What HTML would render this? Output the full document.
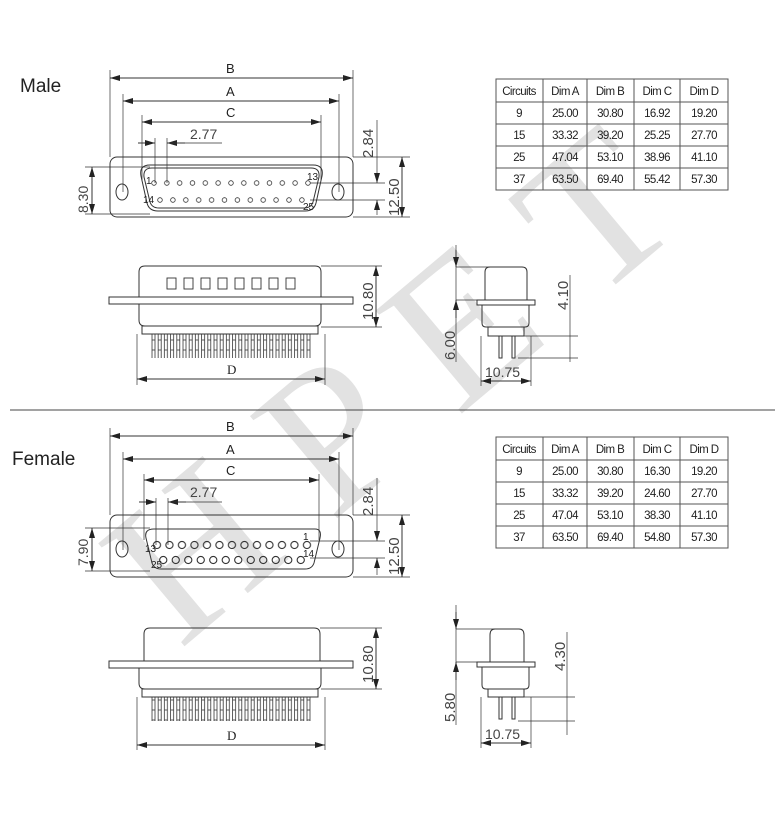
<!DOCTYPE html>
<html><head><meta charset="utf-8"><style>
html,body{margin:0;padding:0;background:#fff;}
svg{display:block;font-family:"Liberation Sans",sans-serif;}
</style></head><body>
<svg width="775" height="815" viewBox="0 0 775 815" xmlns="http://www.w3.org/2000/svg">
<defs>
<marker id="ar" viewBox="0 0 10 6" refX="10" refY="3" markerWidth="10" markerHeight="6" orient="auto-start-reverse" markerUnits="userSpaceOnUse"><path d="M0,0 L10,3 L0,6 z" fill="#222"/></marker>
<pattern id="p1a" patternUnits="userSpaceOnUse" x="147.6" y="178" width="12.83" height="10"><circle cx="6.4" cy="5" r="2.3" fill="none" stroke="#333" stroke-width="0.8"/></pattern>
<pattern id="p1b" patternUnits="userSpaceOnUse" x="153.6" y="195" width="12.9" height="10"><circle cx="6.4" cy="5" r="2.3" fill="none" stroke="#333" stroke-width="0.8"/></pattern>
<pattern id="pfa" patternUnits="userSpaceOnUse" x="150.7" y="540" width="12.5" height="10"><circle cx="6.25" cy="5" r="3.6" fill="none" stroke="#333" stroke-width="1.1"/></pattern>
<pattern id="pfb" patternUnits="userSpaceOnUse" x="157" y="555" width="12.5" height="10"><circle cx="6.25" cy="5" r="3.6" fill="none" stroke="#333" stroke-width="1.1"/></pattern>
<pattern id="pin" patternUnits="userSpaceOnUse" x="151" y="0" width="6.2" height="10"><rect x="1" y="0" width="3" height="10" fill="none" stroke="#333" stroke-width="0.8"/></pattern>
<pattern id="sq" patternUnits="userSpaceOnUse" x="163" y="277" width="17" height="13"><rect x="4" y="1" width="9" height="11" fill="none" stroke="#333" stroke-width="0.9"/></pattern>
</defs>

<!-- watermark -->
<text x="0" y="0" transform="translate(180,650) rotate(-40)" font-family="Liberation Serif,serif" font-size="205" fill="#e2e2e2" letter-spacing="50">HPET</text>

<g fill="none" stroke="#333" stroke-width="1">
<text x="20" y="92" font-size="19" fill="#222" stroke="none">Male</text>
<text x="12" y="465" font-size="19" fill="#222" stroke="none">Female</text>
<line x1="10" y1="410" x2="775" y2="410" stroke="#444"/>

<!-- ===== MALE FRONT ===== -->
<rect x="110" y="157" width="243" height="60" rx="7"/>
<ellipse cx="122" cy="192" rx="6" ry="8"/>
<ellipse cx="338" cy="192" rx="6" ry="8"/>
<path d="M150,165 L313,165 Q324,165 322,176 L316,203 Q314,211 305,211 L158,211 Q149,211 147,203 L141,176 Q139,165 150,165 Z"/>
<path d="M152,168 L311,168 Q320,168 319,177 L313,202 Q311,208 304,208 L159,208 Q152,208 150,202 L144,177 Q143,168 152,168 Z"/>
<rect x="147.6" y="178" width="166.8" height="10" fill="url(#p1a)" stroke="none"/>
<rect x="153.6" y="195" width="154.8" height="10" fill="url(#p1b)" stroke="none"/>
<text x="146" y="184" font-size="10" fill="#222" stroke="none">1</text>
<text x="307" y="180" font-size="10" fill="#222" stroke="none">13</text>
<text x="143" y="203" font-size="10" fill="#222" stroke="none">14</text>
<text x="303" y="210" font-size="10" fill="#222" stroke="none">25</text>
<!-- dims -->
<line x1="110" y1="70" x2="110" y2="157" stroke-width="0.7"/>
<line x1="353" y1="70" x2="353" y2="157" stroke-width="0.7"/>
<line x1="110" y1="78" x2="353" y2="78" marker-start="url(#ar)" marker-end="url(#ar)"/>
<text x="226" y="73" font-size="13" fill="#222" stroke="none">B</text>
<line x1="123" y1="94" x2="123" y2="192" stroke-width="0.7"/>
<line x1="339" y1="94" x2="339" y2="192" stroke-width="0.7"/>
<line x1="123" y1="101" x2="339" y2="101" marker-start="url(#ar)" marker-end="url(#ar)"/>
<text x="226" y="96" font-size="13" fill="#222" stroke="none">A</text>
<line x1="142" y1="115" x2="142" y2="180" stroke-width="0.7"/>
<line x1="321" y1="115" x2="321" y2="180" stroke-width="0.7"/>
<line x1="142" y1="122" x2="321" y2="122" marker-start="url(#ar)" marker-end="url(#ar)"/>
<text x="226" y="117" font-size="13" fill="#222" stroke="none">C</text>
<line x1="155" y1="138" x2="155" y2="183" stroke-width="0.7"/>
<line x1="167" y1="138" x2="167" y2="183" stroke-width="0.7"/>
<line x1="138" y1="143" x2="155" y2="143" marker-end="url(#ar)"/>
<line x1="185" y1="143" x2="167" y2="143" marker-end="url(#ar)"/>
<line x1="167" y1="143" x2="222" y2="143" stroke-width="0.7"/>
<text x="190" y="139" font-size="14" fill="#444" stroke="none">2.77</text>
<line x1="85" y1="167" x2="150" y2="167" stroke-width="0.7"/>
<line x1="85" y1="214" x2="150" y2="214" stroke-width="0.7"/>
<line x1="92" y1="167" x2="92" y2="214" marker-start="url(#ar)" marker-end="url(#ar)"/>
<text transform="translate(88,213) rotate(-90)" font-size="14" fill="#444" stroke="none">8.30</text>
<line x1="353" y1="157" x2="410" y2="157" stroke-width="0.7"/>
<line x1="353" y1="217" x2="410" y2="217" stroke-width="0.7"/>
<line x1="402" y1="157" x2="402" y2="217" marker-start="url(#ar)" marker-end="url(#ar)"/>
<text transform="translate(399,216) rotate(-90)" font-size="15" fill="#444" stroke="none">12.50</text>
<line x1="310" y1="183" x2="385" y2="183" stroke-width="0.7"/>
<line x1="310" y1="200" x2="385" y2="200" stroke-width="0.7"/>
<line x1="377" y1="120" x2="377" y2="183" stroke-width="0.7" marker-end="url(#ar)"/>
<line x1="377" y1="215" x2="377" y2="200" stroke-width="0.7" marker-end="url(#ar)"/>
<text transform="translate(373,158) rotate(-90)" font-size="15" fill="#444" stroke="none">2.84</text>

<!-- ===== MALE SIDE ===== -->
<path d="M139,297 L139,272 Q139,266 145,266 L315,266 Q321,266 321,272 L321,297"/>
<rect x="163" y="277" width="136" height="13" fill="url(#sq)" stroke="none"/>
<rect x="109" y="297" width="244" height="7"/>
<path d="M139,304 L139,320 Q139,326 145,326 L315,326 Q321,326 321,320 L321,304"/>
<rect x="142" y="326" width="176" height="8"/>
<rect x="151" y="334" width="161" height="24" fill="url(#pin)" stroke="none"/>
<line x1="321" y1="266" x2="382" y2="266" stroke-width="0.7"/>
<line x1="321" y1="327" x2="382" y2="327" stroke-width="0.7"/>
<line x1="376" y1="266" x2="376" y2="327" marker-start="url(#ar)" marker-end="url(#ar)"/>
<text transform="translate(373,320) rotate(-90)" font-size="15" fill="#444" stroke="none">10.80</text>
<line x1="137" y1="334" x2="137" y2="385" stroke-width="0.7"/>
<line x1="325" y1="334" x2="325" y2="385" stroke-width="0.7"/>
<line x1="137" y1="379" x2="325" y2="379" marker-start="url(#ar)" marker-end="url(#ar)"/>
<text x="227" y="374" font-size="13" font-family="Liberation Serif,serif" fill="#222" stroke="none">D</text>

<path d="M485,300 L485,272 Q485,267 490,267 L522,267 Q527,267 527,272 L527,300"/>
<rect x="477" y="300" width="58" height="5"/>
<path d="M482,305 L482,323 Q482,327 486,327 L525,327 Q529,327 529,323 L529,305"/>
<rect x="488" y="327" width="36" height="9"/>
<rect x="499" y="336" width="3" height="22"/>
<rect x="512" y="336" width="3" height="22"/>
<line x1="456" y1="245" x2="456" y2="362" stroke-width="0.7"/>
<line x1="456" y1="250" x2="456" y2="267" marker-end="url(#ar)"/>
<line x1="456" y1="318" x2="456" y2="300" marker-end="url(#ar)"/>
<line x1="456" y1="267" x2="490" y2="267" stroke-width="0.7"/>
<line x1="456" y1="300" x2="480" y2="300" stroke-width="0.7"/>
<text transform="translate(455,360) rotate(-90)" font-size="15" fill="#444" stroke="none">6.00</text>
<line x1="570" y1="275" x2="570" y2="362" stroke-width="0.7"/>
<line x1="518" y1="336" x2="578" y2="336" stroke-width="0.7"/>
<line x1="518" y1="358" x2="578" y2="358" stroke-width="0.7"/>
<text transform="translate(568,310) rotate(-90)" font-size="15" fill="#444" stroke="none">4.10</text>
<line x1="481" y1="336" x2="481" y2="386" stroke-width="0.7"/>
<line x1="531" y1="336" x2="531" y2="386" stroke-width="0.7"/>
<line x1="481" y1="381" x2="531" y2="381" marker-start="url(#ar)" marker-end="url(#ar)"/>
<text x="485" y="377" font-size="14" fill="#444" stroke="none">10.75</text>

<!-- ===== FEMALE FRONT ===== -->
<line x1="110" y1="428" x2="110" y2="515" stroke-width="0.7"/>
<line x1="353" y1="428" x2="353" y2="515" stroke-width="0.7"/>
<line x1="110" y1="436" x2="353" y2="436" marker-start="url(#ar)" marker-end="url(#ar)"/>
<text x="226" y="431" font-size="13" fill="#222" stroke="none">B</text>
<line x1="123" y1="452" x2="123" y2="550" stroke-width="0.7"/>
<line x1="339" y1="452" x2="339" y2="550" stroke-width="0.7"/>
<line x1="123" y1="459" x2="339" y2="459" marker-start="url(#ar)" marker-end="url(#ar)"/>
<text x="226" y="454" font-size="13" fill="#222" stroke="none">A</text>
<line x1="144" y1="474" x2="144" y2="540" stroke-width="0.7"/>
<line x1="319" y1="474" x2="319" y2="540" stroke-width="0.7"/>
<line x1="144" y1="480" x2="319" y2="480" marker-start="url(#ar)" marker-end="url(#ar)"/>
<text x="226" y="475" font-size="13" fill="#222" stroke="none">C</text>
<line x1="156" y1="498" x2="156" y2="545" stroke-width="0.7"/>
<line x1="168" y1="498" x2="168" y2="545" stroke-width="0.7"/>
<line x1="139" y1="502" x2="156" y2="502" marker-end="url(#ar)"/>
<line x1="186" y1="502" x2="168" y2="502" marker-end="url(#ar)"/>
<line x1="168" y1="502" x2="222" y2="502" stroke-width="0.7"/>
<text x="190" y="497" font-size="14" fill="#444" stroke="none">2.77</text>
<rect x="110" y="515" width="243" height="62" rx="7"/>
<ellipse cx="122" cy="549" rx="6" ry="8"/>
<ellipse cx="338" cy="549" rx="6" ry="8"/>
<path d="M154,529 L315,529 Q322,529 320,538 L314,563 Q312,569 305,569 L161,569 Q154,569 152,563 L146,538 Q144,529 154,529 Z"/>
<rect x="150.7" y="540" width="162.5" height="10" fill="url(#pfa)" stroke="none"/>
<rect x="157" y="555" width="150" height="10" fill="url(#pfb)" stroke="none"/>
<text x="145" y="552" font-size="10" fill="#222" stroke="none">13</text>
<text x="303" y="540" font-size="10" fill="#222" stroke="none">1</text>
<text x="151" y="568" font-size="10" fill="#222" stroke="none">25</text>
<text x="303" y="557" font-size="10" fill="#222" stroke="none">14</text>
<line x1="85" y1="528" x2="150" y2="528" stroke-width="0.7"/>
<line x1="85" y1="571" x2="150" y2="571" stroke-width="0.7"/>
<line x1="92" y1="528" x2="92" y2="571" marker-start="url(#ar)" marker-end="url(#ar)"/>
<text transform="translate(88,566) rotate(-90)" font-size="14" fill="#444" stroke="none">7.90</text>
<line x1="353" y1="515" x2="410" y2="515" stroke-width="0.7"/>
<line x1="353" y1="577" x2="410" y2="577" stroke-width="0.7"/>
<line x1="402" y1="515" x2="402" y2="577" marker-start="url(#ar)" marker-end="url(#ar)"/>
<text transform="translate(399,575) rotate(-90)" font-size="15" fill="#444" stroke="none">12.50</text>
<line x1="310" y1="541" x2="385" y2="541" stroke-width="0.7"/>
<line x1="310" y1="558" x2="385" y2="558" stroke-width="0.7"/>
<line x1="377" y1="478" x2="377" y2="541" stroke-width="0.7" marker-end="url(#ar)"/>
<line x1="377" y1="575" x2="377" y2="558" stroke-width="0.7" marker-end="url(#ar)"/>
<text transform="translate(373,516) rotate(-90)" font-size="15" fill="#444" stroke="none">2.84</text>

<!-- ===== FEMALE SIDE ===== -->
<path d="M144,661 L144,634 Q144,628 150,628 L314,628 Q320,628 320,634 L320,661"/>
<rect x="109" y="661" width="244" height="7"/>
<path d="M139,668 L139,683 Q139,689 145,689 L315,689 Q321,689 321,683 L321,668"/>
<rect x="142" y="689" width="176" height="8"/>
<rect x="151" y="697" width="161" height="24" fill="url(#pin)" stroke="none"/>
<line x1="320" y1="628" x2="382" y2="628" stroke-width="0.7"/>
<line x1="321" y1="689" x2="382" y2="689" stroke-width="0.7"/>
<line x1="376" y1="628" x2="376" y2="689" marker-start="url(#ar)" marker-end="url(#ar)"/>
<text transform="translate(373,683) rotate(-90)" font-size="15" fill="#444" stroke="none">10.80</text>
<line x1="137" y1="697" x2="137" y2="750" stroke-width="0.7"/>
<line x1="325" y1="697" x2="325" y2="750" stroke-width="0.7"/>
<line x1="137" y1="745" x2="325" y2="745" marker-start="url(#ar)" marker-end="url(#ar)"/>
<text x="227" y="740" font-size="13" font-family="Liberation Serif,serif" fill="#222" stroke="none">D</text>

<path d="M490,662 L490,635 Q490,629 495,629 L519,629 Q524,629 524,635 L524,662"/>
<rect x="477" y="662" width="58" height="5"/>
<path d="M482,667 L482,685 Q482,689 486,689 L525,689 Q529,689 529,685 L529,667"/>
<rect x="488" y="689" width="36" height="8"/>
<rect x="499" y="697" width="3" height="22"/>
<rect x="512" y="697" width="3" height="22"/>
<line x1="456" y1="605" x2="456" y2="725" stroke-width="0.7"/>
<line x1="456" y1="612" x2="456" y2="629" marker-end="url(#ar)"/>
<line x1="456" y1="680" x2="456" y2="662" marker-end="url(#ar)"/>
<line x1="456" y1="629" x2="495" y2="629" stroke-width="0.7"/>
<line x1="456" y1="662" x2="480" y2="662" stroke-width="0.7"/>
<text transform="translate(455,722) rotate(-90)" font-size="15" fill="#444" stroke="none">5.80</text>
<line x1="567" y1="632" x2="567" y2="735" stroke-width="0.7"/>
<line x1="518" y1="697" x2="575" y2="697" stroke-width="0.7"/>
<line x1="518" y1="721" x2="575" y2="721" stroke-width="0.7"/>
<text transform="translate(565,671) rotate(-90)" font-size="15" fill="#444" stroke="none">4.30</text>
<line x1="481" y1="697" x2="481" y2="748" stroke-width="0.7"/>
<line x1="531" y1="697" x2="531" y2="748" stroke-width="0.7"/>
<line x1="481" y1="743" x2="531" y2="743" marker-start="url(#ar)" marker-end="url(#ar)"/>
<text x="485" y="739" font-size="14" fill="#444" stroke="none">10.75</text>
</g>

<!-- TABLES -->
<g font-size="11.5" fill="#222" text-anchor="middle" letter-spacing="-0.6">
<g fill="none" stroke="#555" stroke-width="1">
<rect x="496" y="79" width="232" height="111"/>
<line x1="543" y1="79" x2="543" y2="190"/><line x1="587" y1="79" x2="587" y2="190"/><line x1="634" y1="79" x2="634" y2="190"/><line x1="680" y1="79" x2="680" y2="190"/>
<line x1="496" y1="102" x2="728" y2="102"/><line x1="496" y1="124" x2="728" y2="124"/><line x1="496" y1="146" x2="728" y2="146"/><line x1="496" y1="168" x2="728" y2="168"/>
<rect x="496" y="437" width="232" height="111"/>
<line x1="543" y1="437" x2="543" y2="548"/><line x1="587" y1="437" x2="587" y2="548"/><line x1="634" y1="437" x2="634" y2="548"/><line x1="680" y1="437" x2="680" y2="548"/>
<line x1="496" y1="460" x2="728" y2="460"/><line x1="496" y1="482" x2="728" y2="482"/><line x1="496" y1="504" x2="728" y2="504"/><line x1="496" y1="526" x2="728" y2="526"/>
</g>
<text x="519" y="95">Circuits</text><text x="565" y="95">Dim A</text><text x="610" y="95">Dim B</text><text x="657" y="95">Dim C</text><text x="704" y="95">Dim D</text>
<text x="519" y="117">9</text><text x="565" y="117">25.00</text><text x="610" y="117">30.80</text><text x="657" y="117">16.92</text><text x="704" y="117">19.20</text>
<text x="519" y="139">15</text><text x="565" y="139">33.32</text><text x="610" y="139">39.20</text><text x="657" y="139">25.25</text><text x="704" y="139">27.70</text>
<text x="519" y="161">25</text><text x="565" y="161">47.04</text><text x="610" y="161">53.10</text><text x="657" y="161">38.96</text><text x="704" y="161">41.10</text>
<text x="519" y="183">37</text><text x="565" y="183">63.50</text><text x="610" y="183">69.40</text><text x="657" y="183">55.42</text><text x="704" y="183">57.30</text>

<text x="519" y="453">Circuits</text><text x="565" y="453">Dim A</text><text x="610" y="453">Dim B</text><text x="657" y="453">Dim C</text><text x="704" y="453">Dim D</text>
<text x="519" y="475">9</text><text x="565" y="475">25.00</text><text x="610" y="475">30.80</text><text x="657" y="475">16.30</text><text x="704" y="475">19.20</text>
<text x="519" y="497">15</text><text x="565" y="497">33.32</text><text x="610" y="497">39.20</text><text x="657" y="497">24.60</text><text x="704" y="497">27.70</text>
<text x="519" y="519">25</text><text x="565" y="519">47.04</text><text x="610" y="519">53.10</text><text x="657" y="519">38.30</text><text x="704" y="519">41.10</text>
<text x="519" y="541">37</text><text x="565" y="541">63.50</text><text x="610" y="541">69.40</text><text x="657" y="541">54.80</text><text x="704" y="541">57.30</text>
</g>
</svg>
</body></html>
